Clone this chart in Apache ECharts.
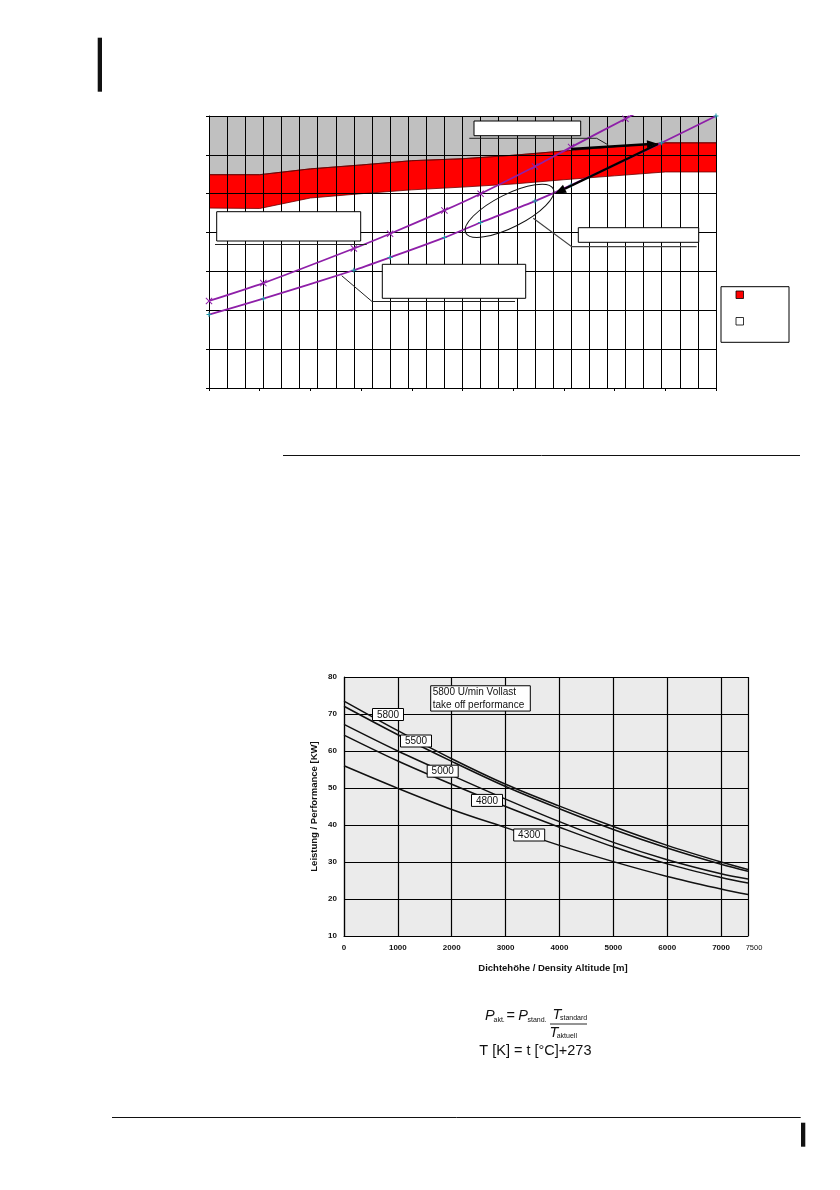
<!DOCTYPE html>
<html><head><meta charset="utf-8">
<script src="https://cdn.jsdelivr.net/npm/echarts@6/dist/echarts.min.js"></script>
<style>html,body{margin:0;padding:0;background:#fff}#c{width:840px;height:1190px}</style>
</head><body><div id="c"></div>
<script>
// ---------- Top chart (grid units, no text in source) ----------
const bandX     = [0, 2.8, 5.6, 8.4, 11.2, 14, 16.8, 19.6, 22.4, 25.2, 28];
const bandUpper = [5.49, 5.49, 5.64, 5.74, 5.85, 5.90, 5.99, 6.10, 6.21, 6.31, 6.31];
const bandLower = [4.63, 4.62, 4.89, 5.00, 5.10, 5.17, 5.25, 5.36, 5.46, 5.56, 5.56];
const lineAX = [0, 3, 8, 10, 13, 15, 18, 20, 23, 25];
const lineAY = [2.24, 2.70, 3.59, 3.97, 4.57, 5.00, 5.70, 6.20, 6.93, 7.42];
const lineBX = [0, 3, 8, 10, 13, 15, 18, 20, 25, 28];
const lineBY = [1.89, 2.30, 3.03, 3.36, 3.87, 4.26, 4.81, 5.22, 6.31, 7.0];

// ---------- Bottom chart ----------
const altitude = [0, 1000, 2000, 3000, 4000, 5000, 6000, 7000, 7500];
const rpmNames = ['5800', '5500', '5000', '4800', '4300'];
const p5800 = [73.5, 65.5, 57.9, 51.0, 45.1, 39.6, 34.5, 30.0, 28.0];
const p5500 = [72.1, 64.4, 57.2, 50.4, 44.4, 38.8, 33.8, 29.4, 27.5];
const p5000 = [67.2, 60.0, 53.4, 47.0, 40.9, 35.3, 30.6, 26.8, 25.4];
const p4800 = [64.3, 57.3, 51.0, 45.0, 39.4, 34.1, 29.5, 25.8, 24.3];
const p4300 = [56.0, 49.9, 44.2, 39.3, 34.5, 30.1, 26.1, 22.7, 21.2];
const perfSeries = [p5800, p5500, p5000, p4800, p4300];
const xTickLabels = ['0', '1000', '2000', '3000', '4000', '5000', '6000', '7000'];
const xEndLabel = '7500';
const yTickLabels = ['10', '20', '30', '40', '50', '60', '70', '80'];
const xTitle = 'Dichtehöhe / Density Altitude [m]';
const yTitle = 'Leistung / Performance [KW]';
const boxTitle = ['5800 U/min Vollast', 'take off performance'];

const FONT = '"Liberation Sans", Arial, sans-serif';
const pairs = (xs, ys) => xs.map((x, i) => [x, ys[i]]);

const chart = echarts.init(document.getElementById('c'), null, {renderer: 'canvas'});

const crossPath = 'path://M0,1L1,0L5,4L9,0L10,1L6,5L10,9L9,10L5,6L1,10L0,9L4,5Z';
const plusPath = 'path://M4,0H6V4H10V6H6V10H4V6H0V4H4Z';
const purple = '#8e1fa8';

const option = {
  animation: false,
  grid: [
    {left: 209, top: 116, width: 507, height: 272, show: false},
    {left: 344, top: 677, width: 404, height: 259, show: true, backgroundColor: '#ebebeb', borderWidth: 0}
  ],
  xAxis: [
    {gridIndex: 0, type: 'value', min: 0, max: 28, interval: 1, z: 5,
     axisLine: {show: true, onZero: false, lineStyle: {color: '#000', width: 1}},
     axisTick: {show: false}, axisLabel: {show: false},
     splitLine: {show: true, lineStyle: {color: '#000', width: 1}}},
    {gridIndex: 0, type: 'value', min: 0, max: 10, interval: 1, position: 'bottom', z: 5,
     axisLine: {show: false}, axisTick: {show: true, length: 3, lineStyle: {color: '#000'}},
     axisLabel: {show: false}, splitLine: {show: false}},
    {gridIndex: 1, type: 'value', min: 0, max: 7500, interval: 1000, z: 5,
     axisLine: {show: true, onZero: false, lineStyle: {color: '#000', width: 1.2}},
     axisTick: {show: false},
     axisLabel: {show: true, showMaxLabel: false, margin: 8, color: '#111', fontFamily: FONT, fontSize: 8, fontWeight: 'bold',
       formatter: (v) => xTickLabels[Math.round(v / 1000)] || ''},
     splitLine: {show: true, lineStyle: {color: '#000', width: 1.2}},
     name: xTitle, nameLocation: 'middle', nameGap: 27,
     nameTextStyle: {color: '#111', fontFamily: FONT, fontSize: 9.5, fontWeight: 'bold', padding: [0, 0, 0, 14]}}
  ],
  yAxis: [
    {gridIndex: 0, type: 'value', min: 0, max: 7, interval: 1, z: 5,
     axisLine: {show: true, lineStyle: {color: '#000', width: 1}},
     axisTick: {show: true, length: 3, lineStyle: {color: '#000'}},
     axisLabel: {show: false},
     splitLine: {show: true, lineStyle: {color: '#000', width: 1}}},
    {gridIndex: 1, type: 'value', min: 10, max: 80, interval: 10, z: 5,
     axisLine: {show: true, lineStyle: {color: '#000', width: 1.2}},
     axisTick: {show: false},
     axisLabel: {show: true, margin: 7, color: '#111', fontFamily: FONT, fontSize: 8, fontWeight: 'bold',
       formatter: (v) => yTickLabels[Math.round((v - 10) / 10)] || ''},
     splitLine: {show: true, lineStyle: {color: '#000', width: 1.2}},
     name: yTitle, nameLocation: 'middle', nameGap: 25, nameRotate: 90,
     nameTextStyle: {color: '#111', fontFamily: FONT, fontSize: 9.5, fontWeight: 'bold'}}
  ],
  series: [
    {type: 'line', xAxisIndex: 0, yAxisIndex: 0, data: pairs(bandX, bandUpper), symbol: 'none', z: 2,
     lineStyle: {color: '#6a0000', width: 0.8}, areaStyle: {color: '#c0c0c0', origin: 'end', opacity: 1}},
    {type: 'line', xAxisIndex: 0, yAxisIndex: 0, data: pairs(bandX, bandUpper), symbol: 'none', z: 2,
     lineStyle: {color: '#6a0000', width: 0.8}, areaStyle: {color: '#ff0000', origin: 'start', opacity: 1}},
    {type: 'line', xAxisIndex: 0, yAxisIndex: 0, data: pairs(bandX, bandLower), symbol: 'none', z: 3,
     lineStyle: {color: '#6a0000', width: 0.8}, areaStyle: {color: '#ffffff', origin: 'start', opacity: 1}},
    {type: 'line', xAxisIndex: 0, yAxisIndex: 0, data: pairs(lineAX, lineAY), z: 10, smooth: 0.2,
     symbol: crossPath, symbolSize: 7, showAllSymbol: true,
     itemStyle: {color: purple}, lineStyle: {color: purple, width: 1.8}},
    {type: 'line', xAxisIndex: 0, yAxisIndex: 0, data: pairs(lineBX, lineBY), z: 10, smooth: 0.2,
     symbol: plusPath, symbolSize: 5, showAllSymbol: true,
     itemStyle: {color: '#1a9aa8'}, lineStyle: {color: purple, width: 1.8}},
  ].concat(perfSeries.map((arr, i) => ({
    name: rpmNames[i], type: 'line', xAxisIndex: 2, yAxisIndex: 1, data: pairs(altitude, arr),
    symbol: 'none', smooth: 0.35, z: 8, lineStyle: {color: '#111', width: 1.5}
  })))
};
chart.setOption(option);

// ---------- graphics ----------
const G = [];
function rect(x, y, w, h, fill, stroke, lw) {
  G.push({type: 'rect', shape: {x, y, width: w, height: h}, z: 50,
    style: {fill: fill, stroke: stroke || null, lineWidth: lw || 0}});
}
function poly(points, stroke, lw) {
  G.push({type: 'polyline', shape: {points}, z: 50, style: {stroke, lineWidth: lw, fill: null}});
}
function text(x, y, t, size, opts) {
  opts = opts || {};
  G.push({type: 'text', x, y, z: 60, style: Object.assign({
    text: t, fill: '#111', font: (opts.style || '') + ' ' + (opts.weight || 'normal') + ' ' + size + 'px ' + FONT,
    align: opts.align || 'left', verticalAlign: opts.va || 'middle'}, opts.extra || {})});
}
function arrow(x1, y1, x2, y2, lw, hl, hw) {
  const dx = x2 - x1, dy = y2 - y1, L = Math.hypot(dx, dy), ux = dx / L, uy = dy / L;
  const bx = x2 - ux * hl, by = y2 - uy * hl;
  poly([[x1, y1], [bx, by]], '#000', lw);
  G.push({type: 'polygon', z: 51, shape: {points: [[x2, y2], [bx - uy * hw / 2, by + ux * hw / 2], [bx + uy * hw / 2, by - ux * hw / 2]]},
    style: {fill: '#000'}});
}

// page decorations
rect(97.7, 37.7, 4.3, 54, '#111');
poly([[283, 455.5], [800, 455.5]], '#111', 1);
poly([[112, 1117.5], [800.7, 1117.5]], '#111', 1);
rect(801, 1122.7, 4.3, 24, '#111');

// top chart callouts (text blank in source)
rect(474, 121, 106.7, 14.7, '#fff', '#000', 1);
poly([[469.3, 138.3], [596.7, 138.3], [608.3, 145]], '#222', 1);
arrow(571, 149, 657, 143.6, 2.4, 10, 8);
arrow(658, 144, 555, 193.5, 2.4, 11, 9);
G.push({type: 'ellipse', x: 509.5, y: 210.8, rotation: 0.468, z: 50,
  shape: {cx: 0, cy: 0, rx: 49, ry: 16.5}, style: {fill: null, stroke: '#111', lineWidth: 1}});
poly([[533.3, 218.3], [571.7, 246.7], [696.7, 246.7]], '#444', 1.2);
rect(578.3, 227.7, 120.4, 14.6, '#fff', '#000', 1);
rect(382.3, 264.3, 143.4, 34, '#fff', '#000', 1);
poly([[341.7, 275.7], [372, 301.5], [515, 301.5]], '#222', 1);
rect(216.7, 211.7, 144, 29.3, '#fff', '#000', 1);
poly([[215, 244.5], [366.7, 244.5]], '#222', 1);
// legend box
rect(721, 286.7, 68, 55.6, '#fff', '#000', 1);
rect(736, 291, 7.5, 7.5, '#ff0000', '#000', 0.8);
rect(736, 317.5, 7.5, 7.5, '#fff', '#000', 0.8);

// bottom chart: labels on curves
function box(cx, cy, w, h, lines) {
  rect(cx - w / 2, cy - h / 2, w, h, '#fff', '#000', 1);
  const lh = 13.3;
  lines.forEach((t, i) => text(cx - w / 2 + 2, cy + (i - (lines.length - 1) / 2) * lh, t, 10));
}
function numBox(cx, cy, t) {
  rect(cx - 15.5, cy - 6, 31, 12, '#fff', '#000', 1);
  text(cx, cy + 0.5, t, 10, {align: 'center'});
}
numBox(388, 714.5, rpmNames[0]);
numBox(416, 741, rpmNames[1]);
numBox(442.7, 771.2, rpmNames[2]);
numBox(487, 800.4, rpmNames[3]);
numBox(529.2, 835, rpmNames[4]);
box(480.5, 698.4, 99.6, 25.3, boxTitle);

// 7500 end label
const pEnd = chart.convertToPixel({xAxisIndex: 2, yAxisIndex: 1}, [7500, 10]);
text(pEnd[0] + 6, pEnd[1] + 11.5, xEndLabel, 7.5, {align: 'center', weight: 'normal'});

// formula
text(485, 1015.8, 'P', 14.5, {style: 'italic'});
text(493.5, 1019.8, 'akt.', 7);
text(506.5, 1015.5, '=', 14.5);
text(518.3, 1015.8, 'P', 14.5, {style: 'italic'});
text(527.5, 1019.8, 'stand.', 7);
text(552.5, 1014.8, 'T', 14.5, {style: 'italic'});
text(560, 1018.5, 'standard', 7);
poly([[550, 1024], [587, 1024]], '#111', 0.9);
text(549.5, 1032.5, 'T', 14.5, {style: 'italic'});
text(556.7, 1035.8, 'aktuell', 7);
text(479.3, 1050.5, 'T [K] = t [°C]+273', 14.5);

chart.setOption({graphic: {elements: G}});
</script>
</body></html>
